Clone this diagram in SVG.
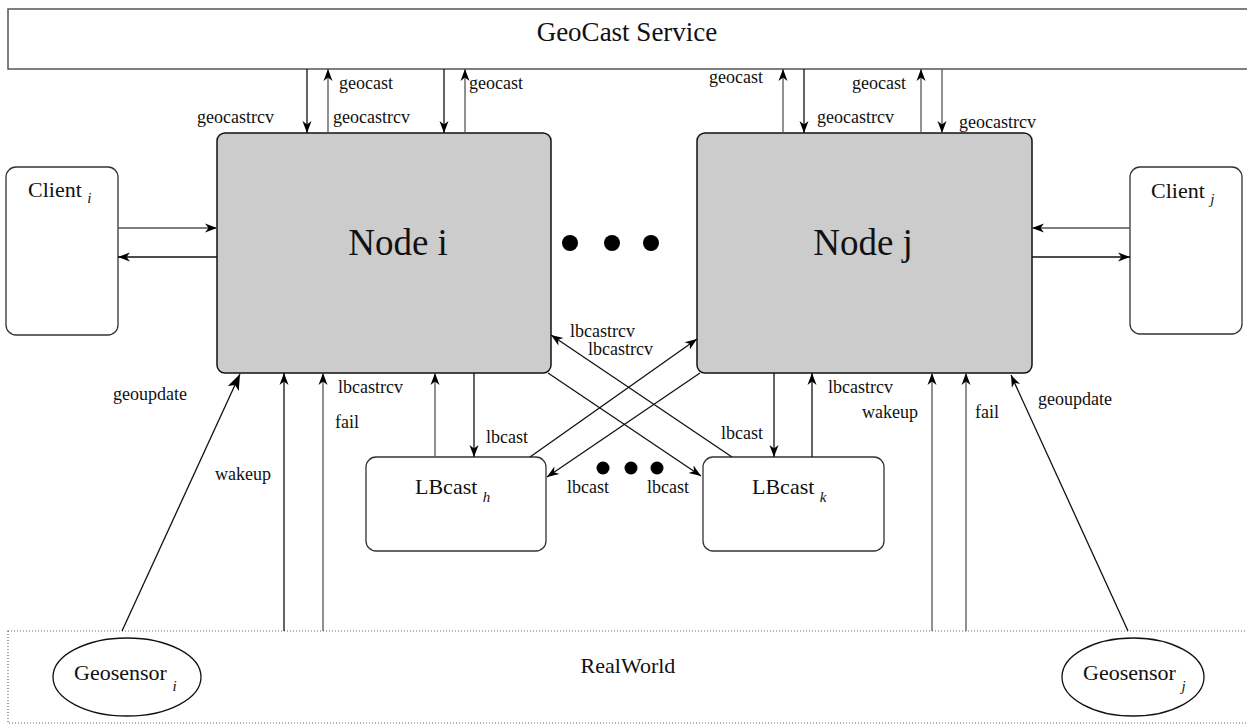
<svg xmlns="http://www.w3.org/2000/svg" width="1247" height="724" viewBox="0 0 1247 724">
  <style>
    .lbl { font-family: "Liberation Serif", "DejaVu Serif", serif; font-size: 18px; fill: #111; }
    .name { font-family: "Liberation Serif", "DejaVu Serif", serif; font-size: 22px; fill: #111; }
    .big { font-family: "Liberation Serif", "DejaVu Serif", serif; font-size: 37px; fill: #111; }
    .sub { font-style: italic; font-size: 15px; }
    .box { fill: #fff; stroke: #333; stroke-width: 1.3; }
    .node { fill: #cccccc; stroke: #111; stroke-width: 1.5; }
    .c { fill: none; stroke: #111; stroke-width: 1.3; marker-end: url(#ah); }
    .g { fill: none; stroke: #555; stroke-width: 1.3; marker-end: url(#ah); }
    .cu { fill: none; stroke: #111; stroke-width: 1.3; marker-end: url(#ahl); }
  </style>
  <defs>
    <marker id="ah" markerUnits="userSpaceOnUse" viewBox="-13 -6 14 12" refX="0" refY="0" markerWidth="14" markerHeight="12" orient="auto">
      <path d="M0,0 L-12,-4.5 L-8.5,0 L-12,4.5 Z" fill="#000"/>
    </marker>
    <marker id="ahl" markerUnits="userSpaceOnUse" viewBox="-17 -7 18 14" refX="0" refY="0" markerWidth="18" markerHeight="14" orient="auto">
      <path d="M0,0 L-16,-6 L-12,0 L-16,6 Z" fill="#000"/>
    </marker>
  </defs>

  <!-- service bar across the top -->
  <g id="geocast-service">
    <rect x="8" y="9" width="1260" height="60" fill="#fff" stroke="#555" stroke-width="1.5"/>
    <text class="name" x="627" y="41" text-anchor="middle" style="font-size:27px">GeoCast Service</text>
  </g>

  <!-- physical environment along the bottom -->
  <g id="realworld">
    <rect x="8" y="631" width="1260" height="92" fill="none" stroke="#666" stroke-width="1.2" stroke-dasharray="1,2"/>
    <text class="name" x="628" y="673" text-anchor="middle">RealWorld</text>
  </g>

  <g id="node-i">
    <rect class="node" x="217" y="133" width="334" height="240" rx="8"/>
    <text class="big" x="398" y="255" text-anchor="middle">Node i</text>
  </g>
  <g id="node-j">
    <rect class="node" x="697" y="133" width="335" height="240" rx="8"/>
    <text class="big" x="863" y="255" text-anchor="middle">Node j</text>
  </g>

  <g id="client-i">
    <rect class="box" x="6" y="167" width="112" height="168" rx="10"/>
    <text class="name" x="28" y="197">Client <tspan class="sub" dy="6">i</tspan></text>
  </g>
  <g id="client-j">
    <rect class="box" x="1130" y="167" width="112" height="167" rx="10"/>
    <text class="name" x="1151" y="198">Client <tspan class="sub" dy="6">j</tspan></text>
  </g>

  <g id="lbcast-h">
    <rect class="box" x="366" y="457" width="180" height="94" rx="10"/>
    <text class="name" x="415" y="494">LBcast <tspan class="sub" dy="8">h</tspan></text>
  </g>
  <g id="lbcast-k">
    <rect class="box" x="703" y="457" width="181" height="94" rx="10"/>
    <text class="name" x="752" y="494">LBcast <tspan class="sub" dy="8">k</tspan></text>
  </g>

  <g id="geosensor-i">
    <ellipse cx="127" cy="677" rx="74" ry="39" fill="#fff" stroke="#111" stroke-width="1.3"/>
    <text class="name" x="74" y="680">Geosensor <tspan class="sub" dy="11">i</tspan></text>
  </g>
  <g id="geosensor-j">
    <ellipse cx="1133" cy="677" rx="71" ry="39" fill="#fff" stroke="#111" stroke-width="1.3"/>
    <text class="name" x="1083" y="680">Geosensor <tspan class="sub" dy="11">j</tspan></text>
  </g>

  <!-- ellipses marking further nodes -->
  <g id="more-nodes" fill="#000">
    <circle cx="570" cy="243" r="8"/>
    <circle cx="612" cy="243" r="8"/>
    <circle cx="651" cy="243" r="8"/>
  </g>
  <g id="more-lbcast" fill="#000">
    <circle cx="603" cy="468" r="6.5"/>
    <circle cx="631" cy="468" r="6.5"/>
    <circle cx="657" cy="468" r="6.5"/>
  </g>

  <g id="connectors">
    <!-- node i <-> service -->
    <line class="c" x1="307" y1="69" x2="307" y2="133"/>
    <line class="g" x1="328" y1="133" x2="328" y2="69"/>
    <line class="c" x1="444" y1="69" x2="444" y2="133"/>
    <line class="g" x1="465" y1="133" x2="465" y2="69"/>
    <!-- node j <-> service -->
    <line class="g" x1="783" y1="133" x2="783" y2="69"/>
    <line class="c" x1="804" y1="69" x2="804" y2="133"/>
    <line class="g" x1="921" y1="133" x2="921" y2="69"/>
    <line class="g" x1="942" y1="69" x2="942" y2="133"/>
    <!-- clients -->
    <line class="g" x1="118" y1="228" x2="217" y2="228"/>
    <line class="c" x1="217" y1="257" x2="118" y2="257"/>
    <line class="g" x1="1130" y1="228" x2="1032" y2="228"/>
    <line class="c" x1="1032" y1="257" x2="1130" y2="257"/>
    <!-- node i <-> environment / lbcast h -->
    <line class="cu" x1="122" y1="631" x2="240" y2="374"/>
    <line class="c" x1="284" y1="631" x2="284" y2="373"/>
    <line class="g" x1="323" y1="631" x2="323" y2="373"/>
    <line class="g" x1="435" y1="457" x2="435" y2="373"/>
    <line class="c" x1="474" y1="373" x2="474" y2="457"/>
    <!-- node j <-> environment / lbcast k -->
    <line class="c" x1="774" y1="373" x2="774" y2="457"/>
    <line class="c" x1="812" y1="457" x2="812" y2="373"/>
    <line class="g" x1="932" y1="631" x2="932" y2="373"/>
    <line class="g" x1="966" y1="631" x2="966" y2="373"/>
    <line class="c" x1="1128" y1="631" x2="1011" y2="375"/>
    <!-- crossing lbcast traffic -->
    <line class="c" x1="548" y1="373" x2="701" y2="476"/>
    <line class="c" x1="732" y1="457" x2="551" y2="335"/>
    <line class="c" x1="530" y1="457" x2="697" y2="339"/>
    <line class="c" x1="700" y1="373" x2="547" y2="477"/>
  </g>

  <g id="labels">
    <text class="lbl" x="197" y="123">geocastrcv</text>
    <text class="lbl" x="339" y="89">geocast</text>
    <text class="lbl" x="333" y="123">geocastrcv</text>
    <text class="lbl" x="469" y="89">geocast</text>
    <text class="lbl" x="709" y="83">geocast</text>
    <text class="lbl" x="817" y="123">geocastrcv</text>
    <text class="lbl" x="852" y="89">geocast</text>
    <text class="lbl" x="959" y="128">geocastrcv</text>
    <text class="lbl" x="113" y="400">geoupdate</text>
    <text class="lbl" x="338" y="393">lbcastrcv</text>
    <text class="lbl" x="335" y="428">fail</text>
    <text class="lbl" x="215" y="480">wakeup</text>
    <text class="lbl" x="486" y="443">lbcast</text>
    <text class="lbl" x="570" y="337">lbcastrcv</text>
    <text class="lbl" x="588" y="355">lbcastrcv</text>
    <text class="lbl" x="721" y="439">lbcast</text>
    <text class="lbl" x="567" y="493">lbcast</text>
    <text class="lbl" x="647" y="493">lbcast</text>
    <text class="lbl" x="828" y="393">lbcastrcv</text>
    <text class="lbl" x="862" y="418">wakeup</text>
    <text class="lbl" x="975" y="418">fail</text>
    <text class="lbl" x="1038" y="405">geoupdate</text>
  </g>
</svg>
